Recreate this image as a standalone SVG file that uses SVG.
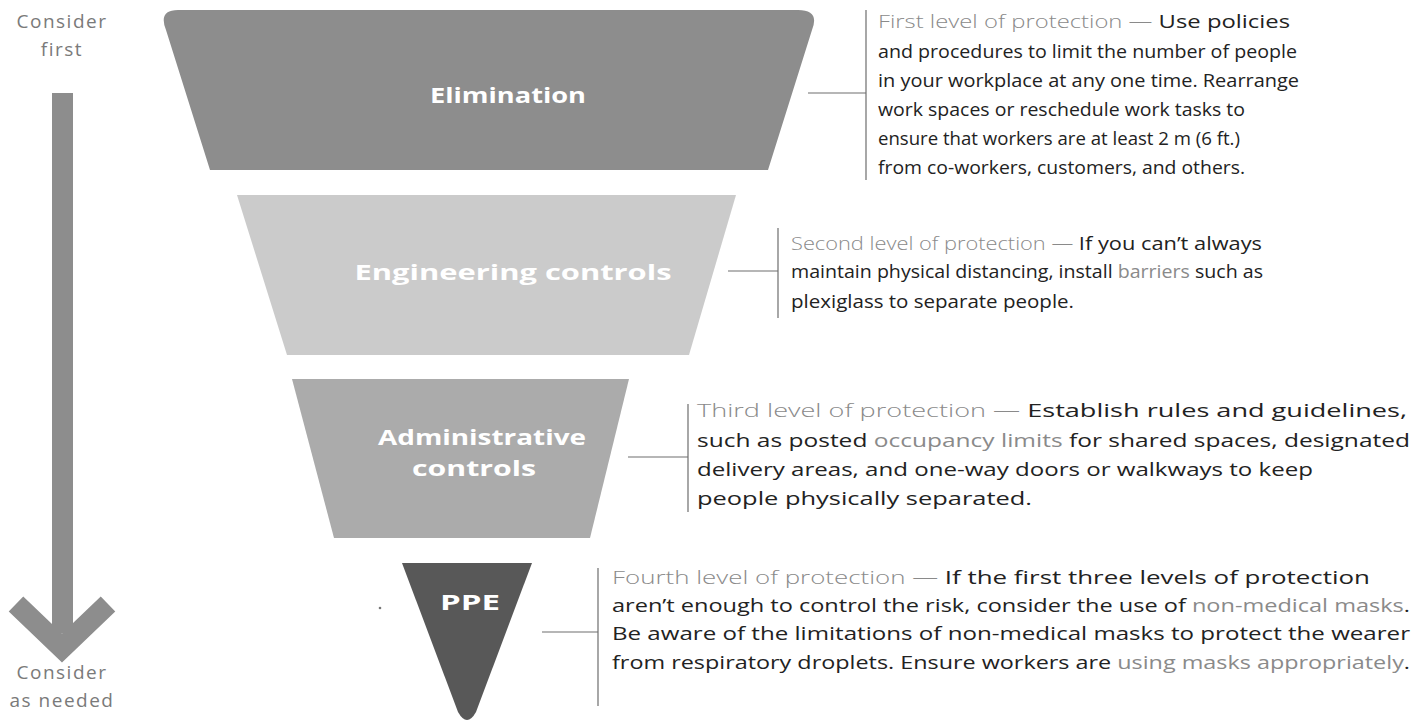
<svg xmlns="http://www.w3.org/2000/svg" width="1413" height="721" viewBox="0 0 1413 721">
<style>
.side{font-family:"Open Sans","Liberation Sans",sans-serif;font-size:19px;fill:#7a7a7a;letter-spacing:1.5px;text-anchor:middle}
.lbl{font-family:"Open Sans","Liberation Sans",sans-serif;font-weight:bold;font-size:22px;fill:#ffffff;text-anchor:middle}
.body{font-family:"Open Sans","Liberation Sans",sans-serif;font-size:19px;fill:#222222}
.pre{fill:#8a8a8a;font-weight:300}
.lnk{fill:#8a8a8a}
.conn{fill:none;stroke:#6e6e6e;stroke-width:1.2}
</style>
<rect width="1413" height="721" fill="#ffffff"/>
<g id="arrow">
<text class="side" x="62" y="28">Consider</text>
<text class="side" x="62" y="56">first</text>
<rect x="52" y="93" width="21" height="540" fill="#8d8d8d"/>
<polyline points="16,604 62,648 108,604" fill="none" stroke="#8d8d8d" stroke-width="21" stroke-linejoin="miter"/>
<text class="side" x="62" y="679">Consider</text>
<text class="side" x="62" y="707">as needed</text>
</g>
<g id="elimination">
<path d="M178,10 H798 Q820,10 812,30 L768,170 H210 L166,30 Q158,10 178,10 Z" fill="#8d8d8d"/>
<text class="lbl" x="508" y="103" textLength="156" lengthAdjust="spacingAndGlyphs">Elimination</text>
</g>
<g id="engineering">
<path d="M237,195 H736 L689,355 H287 Z" fill="#cbcbcb"/>
<text class="lbl" x="513" y="280" textLength="317" lengthAdjust="spacingAndGlyphs">Engineering controls</text>
</g>
<g id="administrative">
<path d="M292,379 H629 L590,538 H334 Z" fill="#ababab"/>
<text class="lbl" x="482" y="445" textLength="208" lengthAdjust="spacingAndGlyphs">Administrative</text>
<text class="lbl" x="474" y="476" textLength="124" lengthAdjust="spacingAndGlyphs">controls</text>
</g>
<g id="ppe">
<path d="M402,563 H532 L476,712 Q467,728 458,712 Z" fill="#585858"/>
<text class="lbl" x="470" y="610" textLength="60" lengthAdjust="spacingAndGlyphs">PPE</text>
<circle cx="380" cy="608" r="1.3" fill="#777777"/>
</g>
<g id="connectors">
<path class="conn" d="M808,93 H866 M866,10 V180"/>
<path class="conn" d="M728,271 H778 M778,228 V318"/>
<path class="conn" d="M628,457 H688 M688,404 V512"/>
<path class="conn" d="M542,632 H598 M598,568 V706"/>
</g>
<g id="text1">
<text class="body" x="878" y="28" textLength="412" lengthAdjust="spacingAndGlyphs"><tspan class="pre">First level of protection —</tspan> Use policies</text>
<text class="body" x="878" y="58" textLength="419" lengthAdjust="spacingAndGlyphs">and procedures to limit the number of people</text>
<text class="body" x="878" y="87" textLength="421" lengthAdjust="spacingAndGlyphs">in your workplace at any one time. Rearrange</text>
<text class="body" x="878" y="116" textLength="367" lengthAdjust="spacingAndGlyphs">work spaces or reschedule work tasks to</text>
<text class="body" x="878" y="145" textLength="362" lengthAdjust="spacingAndGlyphs">ensure that workers are at least 2 m (6 ft.)</text>
<text class="body" x="878" y="174" textLength="367" lengthAdjust="spacingAndGlyphs">from co-workers, customers, and others.</text>
</g>
<g id="text2">
<text class="body" x="791" y="250" textLength="471" lengthAdjust="spacingAndGlyphs"><tspan class="pre">Second level of protection —</tspan> If you can’t always</text>
<text class="body" x="791" y="278" textLength="472" lengthAdjust="spacingAndGlyphs">maintain physical distancing, install <tspan class="lnk">barriers</tspan> such as</text>
<text class="body" x="791" y="308" textLength="283" lengthAdjust="spacingAndGlyphs">plexiglass to separate people.</text>
</g>
<g id="text3">
<text class="body" x="697" y="417" textLength="710" lengthAdjust="spacingAndGlyphs"><tspan class="pre">Third level of protection —</tspan> Establish rules and guidelines,</text>
<text class="body" x="697" y="447" textLength="713" lengthAdjust="spacingAndGlyphs">such as posted <tspan class="lnk">occupancy limits</tspan> for shared spaces, designated</text>
<text class="body" x="697" y="476" textLength="616" lengthAdjust="spacingAndGlyphs">delivery areas, and one-way doors or walkways to keep</text>
<text class="body" x="697" y="505" textLength="335" lengthAdjust="spacingAndGlyphs">people physically separated.</text>
</g>
<g id="text4">
<text class="body" x="612" y="584" textLength="758" lengthAdjust="spacingAndGlyphs"><tspan class="pre">Fourth level of protection —</tspan> If the first three levels of protection</text>
<text class="body" x="612" y="612" textLength="798" lengthAdjust="spacingAndGlyphs">aren’t enough to control the risk, consider the use of <tspan class="lnk">non-medical masks</tspan>.</text>
<text class="body" x="612" y="640" textLength="798" lengthAdjust="spacingAndGlyphs">Be aware of the limitations of non-medical masks to protect the wearer</text>
<text class="body" x="612" y="669" textLength="798" lengthAdjust="spacingAndGlyphs">from respiratory droplets. Ensure workers are <tspan class="lnk">using masks appropriately</tspan>.</text>
</g>
</svg>
